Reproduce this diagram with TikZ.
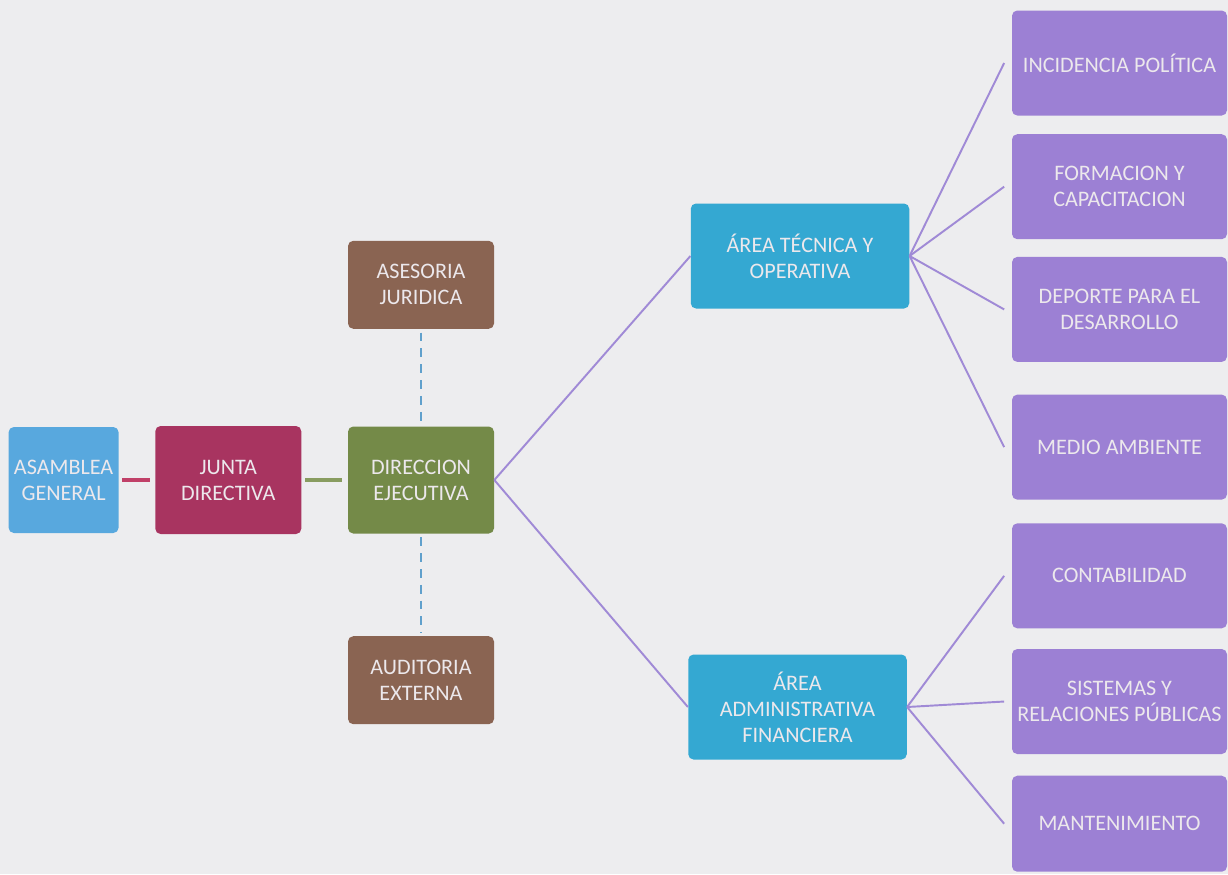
\documentclass[tikz,border=0pt]{standalone}
\usepackage{fontspec}
\setmainfont{Carlito}
\usetikzlibrary{positioning,backgrounds}
\definecolor{paper}{RGB}{237,237,239}
\definecolor{asamblea}{RGB}{88,168,222}
\definecolor{junta}{RGB}{168,52,96}
\definecolor{direc}{RGB}{116,138,72}
\definecolor{asesor}{RGB}{138,100,82}
\definecolor{area}{RGB}{52,168,210}
\definecolor{lila}{RGB}{156,128,212}
\definecolor{lilaline}{RGB}{160,138,214}
\definecolor{redline}{RGB}{192,64,104}
\definecolor{greenline}{RGB}{136,156,96}
\definecolor{dashblue}{RGB}{96,160,204}
\definecolor{boxtext}{RGB}{236,232,236}
\tikzstyle{box0} = [rectangle, fill=asamblea, text=boxtext, inner sep=1pt, %
   text centered, rounded corners=3pt, align=center, font=\fontsize{12.6}{14.8}\selectfont]
\tikzstyle{box1} = [box0, fill=junta]
\tikzstyle{box2} = [box0, fill=direc]
\tikzstyle{box3} = [box0, fill=asesor, minimum width=2.92cm, minimum height=1.76cm]
\tikzstyle{box4} = [box0, fill=area, minimum width=4.37cm, minimum height=2.1cm]
\tikzstyle{box5} = [box0, fill=lila, minimum width=4.3cm, minimum height=2.1cm]
\tikzstyle{line} = [draw, lilaline, line width=1.1pt]
\tikzstyle{linkred} = [draw, redline, line width=1.8pt, shorten <=2pt, shorten >=3pt]
\tikzstyle{linkgreen} = [draw, greenline, line width=1.8pt, shorten <=2pt, shorten >=3pt]
\tikzstyle{dashline} = [draw, dashblue, line width=0.8pt, dash pattern=on 5pt off 4pt, %
   shorten <=2pt, shorten >=2pt]

\begin{document}
\begin{tikzpicture}
   \fill[paper] (0,0) rectangle (24.56,-17.48);
   \useasboundingbox (0,0) rectangle (24.56,-17.48);

% Left chain %%%%%%%%%%%%%%%%%%%%%%%%%%%%%%%%%%%%%%%%%%%%%%%%%%
   \node[box2, minimum width=2.92cm, minimum height=2.14cm](direccion) at (8.42,-9.6){%
      DIRECCION\\EJECUTIVA};

   \node[box1, left=0.92cm of direccion, minimum width=2.92cm, minimum height=2.16cm](junta){%
      JUNTA\\DIRECTIVA};

   \node[box0, left=0.72cm of junta, minimum width=2.2cm, minimum height=2.12cm](asamblea){%
      ASAMBLEA\\GENERAL};

% Support %%%%%%%%%%%%%%%%%%%%%%%%%%%%%%%%%%%%%%%%%%%%%%%%%%%%%
   \node[box3, above=1.94cm of direccion](asesoria){%
      ASESORIA\\JURIDICA};

   \node[box3, below=2.04cm of direccion](auditoria){%
      AUDITORIA\\EXTERNA};

% Areas %%%%%%%%%%%%%%%%%%%%%%%%%%%%%%%%%%%%%%%%%%%%%%%%%%%%%%%
   \node[box4](tecnica) at (16.0,-5.12){%
      ÁREA TÉCNICA Y\\OPERATIVA};

   \node[box4](admin) at (15.95,-14.14){%
      ÁREA\\ADMINISTRATIVA\\FINANCIERA};

% Units %%%%%%%%%%%%%%%%%%%%%%%%%%%%%%%%%%%%%%%%%%%%%%%%%%%%%%%
   \node[box5](incidencia) at (22.39,-1.26){INCIDENCIA POLÍTICA};
   \node[box5, below=0.36cm of incidencia](formacion){FORMACION Y\\CAPACITACION};
   \node[box5, below=0.34cm of formacion](deporte){DEPORTE PARA EL\\DESARROLLO};
   \node[box5, below=0.64cm of deporte](medio){MEDIO AMBIENTE};
   \node[box5, below=0.46cm of medio](contabilidad){CONTABILIDAD};
   \node[box5, below=0.4cm of contabilidad](sistemas){SISTEMAS Y\\RELACIONES PÚBLICAS};
   \node[box5, below=0.42cm of sistemas, minimum height=1.92cm](mantenimiento){MANTENIMIENTO};

   % Draw edges
   \path [linkred] (asamblea) -- (junta);
   \path [linkgreen] (junta) -- (direccion);
   \path [dashline] (asesoria) -- (direccion);
   \path [dashline] (direccion) -- (auditoria);

   \path [line] (direccion.east) -- (tecnica.west);
   \path [line] (direccion.east) -- (admin.west);

   \foreach \unit in {incidencia,formacion,deporte,medio}
      \path [line] (tecnica.east) -- ([xshift=-0.15cm]\unit.west);
   \foreach \unit in {contabilidad,sistemas,mantenimiento}
      \path [line] (admin.east) -- ([xshift=-0.15cm]\unit.west);

\end{tikzpicture}
\end{document}
